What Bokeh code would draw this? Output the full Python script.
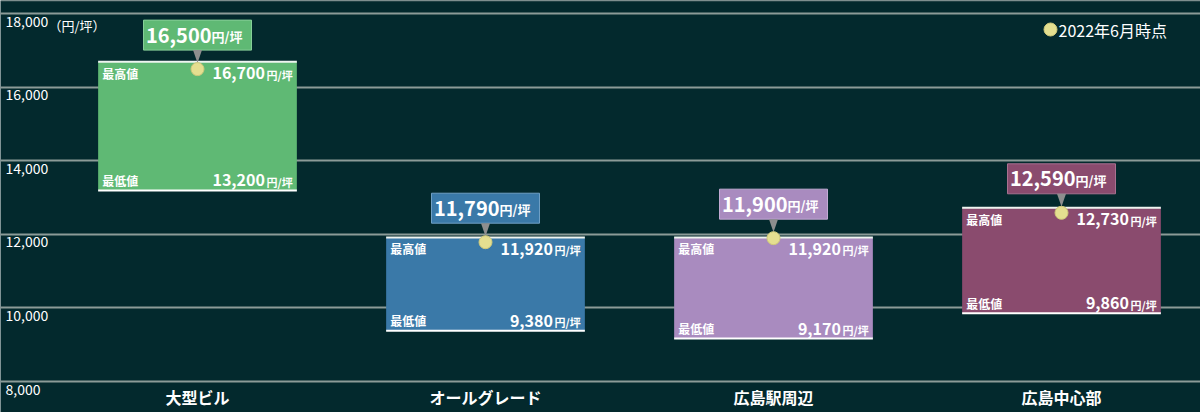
from bokeh.plotting import figure
from bokeh.models import Range1d, Grid, FixedTicker, ColumnDataSource, Span
from bokeh.core.properties import value
from bokeh.embed import file_html
from bokeh.resources import INLINE

# ---- data ----
categories = ["大型ビル", "オールグレード", "広島駅周辺", "広島中心部"]
high_vals = [16700, 11920, 11920, 12730]
low_vals = [13200, 9380, 9170, 9860]
current_vals = [16500, 11790, 11900, 12590]
bar_colors = ["#5fb974", "#3a79a8", "#a98bbf", "#8a4b6e"]
box_border = ["#86cf98", "#6f9fc4", "#c2aad4", "#a87190"]
y_ticks = [8000, 10000, 12000, 14000, 16000, 18000]
y_tick_labels = ["8,000", "10,000", "12,000", "14,000", "16,000", "18,000"]
unit_label = "（円/坪）"
legend_label = "2022年6月時点"
high_label = "最高値"
low_label = "最低値"
unit = "円/坪"

W, H = 1200, 412
BG = "#03292d"
FONT = value("Noto Sans CJK JP")
DOT = "#e4df90"

x_start, x_end = -197 / 288, 1003 / 288
y_start, y_end = 7156.5, 18367.0
xpp = (x_end - x_start) / W
ypp = (y_end - y_start) / H

p = figure(width=W, height=H, output_backend="svg", toolbar_location=None,
           x_range=Range1d(x_start, x_end), y_range=Range1d(y_start, y_end),
           x_axis_location=None, y_axis_location=None, min_border=0,
           background_fill_color=BG, border_fill_color=BG, outline_line_color=None)
for g in p.grid:
    g.visible = False

p.add_layout(Grid(dimension=1, ticker=FixedTicker(ticks=y_ticks),
                  grid_line_color="#8c9b98", grid_line_width=2))
p.add_layout(Span(location=y_end, dimension="width", line_color="#7d8c8a", line_width=1.5))

idx = list(range(len(categories)))
fmt = lambda v: f"{v:,}"
half = 0.345

src = ColumnDataSource(dict(
    x=idx, cat=categories, high=high_vals, low=low_vals, cur=current_vals,
    color=bar_colors, border=box_border,
    left=[i - half for i in idx], right=[i + half for i in idx],
    high_txt=[fmt(v) for v in high_vals], low_txt=[fmt(v) for v in low_vals],
    cur_txt=[fmt(v) for v in current_vals],
    box_l=[i - 54 * xpp for i in idx], box_r=[i + 54 * xpp for i in idx],
    box_b=[v + 19 * ypp for v in current_vals], box_t=[v + 49 * ypp for v in current_vals],
    hl=[high_label] * len(idx), ll=[low_label] * len(idx), un=[unit] * len(idx),
    base=[y_ticks[0]] * len(idx),
))

# y tick labels
p.text(x=[x_start] * len(y_ticks), y=y_ticks, text=y_tick_labels, x_offset=5, y_offset=2,
       text_font=FONT, text_font_size="14px", text_color="#ffffff",
       text_baseline="top", text_align="left")
p.text(x=[x_start], y=[y_ticks[-1]], text=[unit_label], x_offset=48, y_offset=2,
       text_font=FONT, text_font_size="13px", text_color="#ffffff",
       text_baseline="top", text_align="left")

# bars
p.quad(left="left", right="right", bottom="low", top="high", fill_color="color",
       line_color=None, source=src)
p.segment(x0="left", x1="right", y0="high", y1="high", line_color="#eef4f0",
          line_width=2, source=src)
p.segment(x0="left", x1="right", y0="low", y1="low", line_color="#ffffff",
          line_width=2, source=src)

# inner labels
TOP_OFF, BOT_OFF = 11.5, -10
p.text(x="left", y="high", text="hl", x_offset=4, y_offset=TOP_OFF, source=src,
       text_font=FONT, text_font_size="12px", text_font_style="bold",
       text_color="#ffffff", text_baseline="middle", text_align="left")
p.text(x="left", y="low", text="ll", x_offset=4, y_offset=BOT_OFF, source=src,
       text_font=FONT, text_font_size="12px", text_font_style="bold",
       text_color="#ffffff", text_baseline="middle", text_align="left")
for col, yc, off in (("high_txt", "high", TOP_OFF), ("low_txt", "low", BOT_OFF)):
    p.text(x="right", y=yc, text=col, x_offset=-32, y_offset=off, source=src,
           text_font=FONT, text_font_size="16px", text_font_style="bold",
           text_color="#ffffff", text_baseline="middle", text_align="right")
    p.text(x="right", y=yc, text="un", x_offset=-4, y_offset=off + 1.5, source=src,
           text_font=FONT, text_font_size="11px", text_font_style="bold",
           text_color="#ffffff", text_baseline="middle", text_align="right")

# callout boxes
p.quad(left="box_l", right="box_r", bottom="box_b", top="box_t", fill_color="color",
       line_color="border", line_width=1, source=src)
p.patches(xs=[[i - 4.5 * xpp, i + 4.5 * xpp, i] for i in idx],
          ys=[[v + 19 * ypp, v + 19 * ypp, v + 6 * ypp] for v in current_vals],
          fill_color="#8e8e8e", line_color=None)
p.text(x="x", y="cur", text="cur_txt", x_offset=14, y_offset=-34, source=src,
       text_font=FONT, text_font_size="20px", text_font_style="bold",
       text_color="#ffffff", text_baseline="middle", text_align="right")
p.text(x="x", y="cur", text="un", x_offset=14, y_offset=-32.5, source=src,
       text_font=FONT, text_font_size="13px", text_font_style="bold",
       text_color="#ffffff", text_baseline="middle", text_align="left")

# current value dots
p.scatter(x="x", y="cur", size=13, fill_color=DOT, line_color="#cfc97a",
          line_width=1, source=src)

# category labels
p.text(x="x", y="base", text="cat", y_offset=15, source=src,
       text_font=FONT, text_font_size="16px", text_font_style="bold",
       text_color="#ffffff", text_baseline="middle", text_align="center")

# legend (manual)
lx, ly = x_end - 150 * xpp, y_end - 29 * ypp
p.scatter(x=[lx], y=[ly], size=13, fill_color=DOT, line_color="#cfc97a", line_width=1)
p.text(x=[lx], y=[ly], text=[legend_label], x_offset=8, text_font=FONT,
       text_font_size="16px", text_color="#ffffff", text_baseline="middle",
       text_align="left")

open("out.html", "w").write(file_html(p, INLINE))
